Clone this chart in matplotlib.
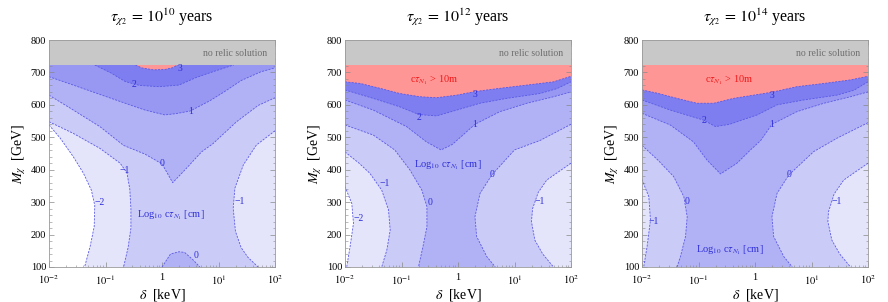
import numpy as np
import matplotlib
matplotlib.use("Agg")
import matplotlib.pyplot as plt
from matplotlib.ticker import FixedLocator, FixedFormatter, MultipleLocator, LogLocator, NullFormatter

plt.rcParams['font.family'] = 'serif'
plt.rcParams['font.serif'] = ['Liberation Serif']
plt.rcParams['mathtext.fontset'] = 'stix'

# edge of the "no relic solution" band
M_TOP = 723

# contour lines: (log10 delta/keV, M_chi/GeV)
# ---- tau = 1e10 years
p1_c3 = [(-0.47, 723), (-0.36, 714), (-0.15, 708), (0.05, 709), (0.2, 715), (0.27, 723)]
p1_c2 = [(-1.19, 723), (-0.9, 698), (-0.65, 672), (-0.4, 660), (-0.05, 656), (0.3, 661),
         (0.6, 684), (0.95, 705), (1.27, 723)]
p1_c1 = [(-2, 687), (-1.57, 661), (-0.98, 625), (-0.57, 600), (-0.3, 584), (0.05, 569), (0.25, 573),
         (0.5, 581), (0.85, 613), (1.1, 640), (1.4, 675), (1.75, 702), (2, 714)]
p1_c0 = [(-2, 630), (-1.57, 584), (-1.1, 533), (-0.68, 475), (-0.3, 448), (0.0, 418), (0.19, 360),
         (0.42, 402), (0.7, 455), (0.9, 480), (1.32, 548), (1.7, 598), (2, 622)]
p1_c0b = [(0.0, 100), (0.15, 140), (0.3, 147), (0.4, 145), (0.55, 122), (0.67, 100)]
p1_cm1L = [(-2, 548), (-1.57, 512), (-1.1, 466), (-0.74, 420), (-0.62, 390), (-0.57, 340),
           (-0.55, 280), (-0.55, 220), (-0.6, 160), (-0.68, 100)]
p1_cm1R = [(2, 520), (1.67, 476), (1.44, 415), (1.29, 343), (1.26, 281), (1.3, 210), (1.4, 160),
           (1.52, 130), (1.70, 100)]
p1_cm2L = [(-2, 538), (-1.8, 497), (-1.57, 440), (-1.39, 389), (-1.25, 337), (-1.19, 290),
           (-1.2, 225), (-1.27, 165), (-1.37, 100)]

# ---- tau = 1e12 years
p2_c3 = [(-2, 671), (-1.73, 666), (-1.38, 651), (-1.03, 635), (-0.67, 625), (-0.38, 622), (-0.02, 630),
         (0.3, 641), (0.74, 651), (1.22, 661), (1.69, 671), (2, 688)]
p2_c2 = [(-2, 646), (-1.5, 620), (-1.03, 594), (-0.69, 570), (-0.38, 566), (-0.02, 584), (0.39, 605),
         (0.86, 620), (1.45, 635), (1.75, 650), (2, 671)]
p2_c1 = [(-2, 615), (-1.5, 584), (-0.91, 533), (-0.56, 486), (-0.3, 461), (-0.1, 478), (0.3, 540),
         (0.74, 579), (1.22, 605), (1.69, 625), (2, 640)]
p2_c0L = [(-2, 538), (-1.5, 507), (-1.12, 461), (-0.85, 399), (-0.64, 337), (-0.55, 286), (-0.55, 224),
          (-0.62, 163), (-0.70, 100)]
p2_c0R = [(2, 540), (1.45, 490), (1.0, 461), (0.60, 384), (0.39, 327), (0.30, 255), (0.33, 194),
          (0.51, 132), (0.66, 100)]
p2_cm1L = [(-2, 455), (-1.75, 420), (-1.56, 389), (-1.35, 337), (-1.23, 276), (-1.20, 214),
           (-1.26, 152), (-1.35, 100)]
p2_cm1R = [(2, 420), (1.75, 390), (1.57, 368), (1.42, 330), (1.32, 280), (1.30, 240), (1.36, 183),
           (1.5, 140), (1.69, 100)]
p2_cm2L = [(-2, 348), (-1.88, 296), (-1.85, 235), (-1.91, 163), (-1.97, 100)]

# ---- tau = 1e14 years
p3_c3 = [(-2, 646), (-1.73, 636), (-1.38, 620), (-1.03, 605), (-0.73, 605), (-0.38, 620), (-0.02, 630),
         (0.3, 639), (0.74, 656), (1.22, 666), (1.69, 677), (2, 688)]
p3_c2 = [(-2, 615), (-1.5, 584), (-0.91, 553), (-0.7, 533), (-0.45, 540), (-0.2, 555), (0.04, 569),
         (0.39, 600), (0.86, 615), (1.45, 630), (1.75, 645), (2, 671)]
p3_c1 = [(-2, 574), (-1.5, 538), (-1.09, 486), (-0.85, 430), (-0.61, 387), (-0.32, 420), (-0.08, 461),
         (0.1, 490), (0.3, 540), (0.74, 579), (1.22, 605), (1.69, 625), (2, 640)]
p3_c0L = [(-2, 475), (-1.72, 430), (-1.44, 379), (-1.26, 317), (-1.20, 255), (-1.23, 194),
          (-1.32, 132), (-1.38, 100)]
p3_c0R = [(2, 545), (1.45, 497), (1.04, 456), (0.60, 384), (0.39, 327), (0.30, 255), (0.33, 194),
          (0.51, 132), (0.66, 100)]
p3_cm1L = [(-2, 370), (-1.88, 317), (-1.85, 245), (-1.91, 163), (-1.97, 100)]
p3_cm1R = [(2, 420), (1.75, 390), (1.57, 368), (1.40, 325), (1.30, 270), (1.29, 240), (1.36, 183),
           (1.5, 140), (1.69, 100)]

# contour labels: (text, log10 delta, M)
p1_labels = [("3", 0.32, 713), ("2", -0.49, 663), ("1", 0.51, 580), ("0", 0.0, 418),
             ("\u22121", -0.66, 399), ("\u22122", -1.10, 299), ("\u22121", 1.38, 301), ("0", 0.60, 137)]
p2_labels = [("3", 0.30, 632), ("2", -0.69, 560), ("1", 0.30, 540), ("0", -0.50, 300),
             ("0", 0.60, 384), ("\u22121", -1.29, 358), ("\u22122", -1.76, 250), ("\u22121", 1.45, 301)]
p3_labels = [("3", 0.30, 630), ("2", -0.91, 553), ("1", 0.30, 540), ("0", -1.21, 301),
             ("0", 0.60, 384), ("\u22121", -1.79, 240), ("\u22121", 1.45, 301)]

titles = [r"$\tau_{\chi_2}\,=\,10^{10}$ years", r"$\tau_{\chi_2}\,=\,10^{12}$ years",
          r"$\tau_{\chi_2}\,=\,10^{14}$ years"]
log_label_pos = [(0.16, 260), (-0.18, 414), (-0.44, 152)]
red_label_pos = [None, (-0.43, 677), (-0.46, 677)]

# fill colours, from lowest level up
c_white = "#ffffff"
c_m2 = "#e4e4fb"
c_m1 = "#cbcbf8"
c_0 = "#b1b1f5"
c_1 = "#9898f2"
c_2 = "#7e7ef0"
c_red = "#ff9696"
c_gray = "#c8c8c8"
c_line = "#5a5ae6"


def xy(curve, close=None):
    x = [10 ** p[0] for p in curve]
    y = [p[1] for p in curve]
    if close == "top":
        x += [x[-1], x[0]]
        y += [800, 800]
    elif close == "left":
        x += [1e-2]
        y += [100]
    elif close == "right":
        x += [1e2]
        y += [100]
    return x, y


def draw(ax, base, layers, labels, title, log_pos, red_pos):
    ax.set_xscale("log")
    ax.set_xlim(1e-2, 1e2)
    ax.set_ylim(100, 800)
    ax.set_facecolor(base)
    for curve, close, col in layers:
        x, y = xy(curve, close)
        ax.fill(x, y, color=col, lw=0, zorder=1)
    for curve, close, col in layers:
        x, y = xy(curve)
        ax.plot(x, y, color=c_line, lw=0.6, dashes=(2.5, 1.5), zorder=2)
    ax.axhspan(M_TOP, 800, color=c_gray, zorder=3, lw=0)
    ax.text(10 ** 1.86, 757, "no relic solution", ha="right", va="center", fontsize=7,
            color="#6e6e6e", zorder=4)
    for t, lx, m in labels:
        ax.text(10 ** lx, m, t, ha="center", va="center", fontsize=7, color="#2f2fd8", zorder=4,
                family=["Liberation Serif", "DejaVu Serif"])
    ax.text(10 ** log_pos[0], log_pos[1], r"Log$_{10}$ c$\tau_{N_1}$ [cm]", ha="center", va="center",
            fontsize=7.5, color="#2f2fd8", zorder=4)
    if red_pos is not None:
        ax.text(10 ** red_pos[0], red_pos[1], r"c$\tau_{N_1}$ > 10m", ha="center", va="center",
                fontsize=7.5, color="#f01818", zorder=4)
    ax.set_title(title, fontsize=11.5, pad=13)
    ax.set_xlabel(r"$\delta$  [keV]", fontsize=10, labelpad=0)
    ax.set_ylabel(r"$M_\chi$  [GeV]", fontsize=10, labelpad=2)
    ax.xaxis.set_major_locator(FixedLocator([1e-2, 1e-1, 1, 1e1, 1e2]))
    ax.xaxis.set_major_formatter(FixedFormatter([r"$10^{-2}$", r"$10^{-1}$", "1", r"$10^{1}$", r"$10^{2}$"]))
    ax.xaxis.set_minor_locator(LogLocator(base=10, subs=np.arange(2, 10)))
    ax.xaxis.set_minor_formatter(NullFormatter())
    ax.yaxis.set_major_locator(MultipleLocator(100))
    ax.yaxis.set_minor_locator(MultipleLocator(20))
    ax.tick_params(which="both", direction="in", top=True, right=True, color="#888888",
                   labelsize=7.5, zorder=5)
    ax.tick_params(axis="x", pad=4.5)
    ax.tick_params(axis="y", pad=2)
    ax.tick_params(which="major", length=3.5, width=0.5)
    ax.tick_params(which="minor", length=1.8, width=0.4)
    for s in ax.spines.values():
        s.set_color("#999999")
        s.set_linewidth(0.6)
        s.set_zorder(6)


fig = plt.figure(figsize=(8.88, 3.02), dpi=100)
ax1 = fig.add_axes([49 / 888, 35 / 302, 226 / 888, 227 / 302])
ax2 = fig.add_axes([345 / 888, 35 / 302, 226 / 888, 227 / 302])
ax3 = fig.add_axes([642 / 888, 35 / 302, 226 / 888, 227 / 302])

draw(ax1, c_m1,
     [(p1_cm1L, "left", c_m2), (p1_cm2L, "left", c_white), (p1_cm1R, "right", c_m2),
      (p1_c0, "top", c_0), (p1_c0b, None, c_0), (p1_c1, "top", c_1), (p1_c2, "top", c_2),
      (p1_c3, "top", c_red)],
     p1_labels, titles[0], log_label_pos[0], red_label_pos[0])

draw(ax2, c_0,
     [(p2_c0L, "left", c_m1), (p2_cm1L, "left", c_m2), (p2_cm2L, "left", c_white),
      (p2_c0R, "right", c_m1), (p2_cm1R, "right", c_m2),
      (p2_c1, "top", c_1), (p2_c2, "top", c_2), (p2_c3, "top", c_red)],
     p2_labels, titles[1], log_label_pos[1], red_label_pos[1])

draw(ax3, c_0,
     [(p3_c0L, "left", c_m1), (p3_cm1L, "left", c_m2),
      (p3_c0R, "right", c_m1), (p3_cm1R, "right", c_m2),
      (p3_c1, "top", c_1), (p3_c2, "top", c_2), (p3_c3, "top", c_red)],
     p3_labels, titles[2], log_label_pos[2], red_label_pos[2])

fig.savefig("out.png", dpi=100)
